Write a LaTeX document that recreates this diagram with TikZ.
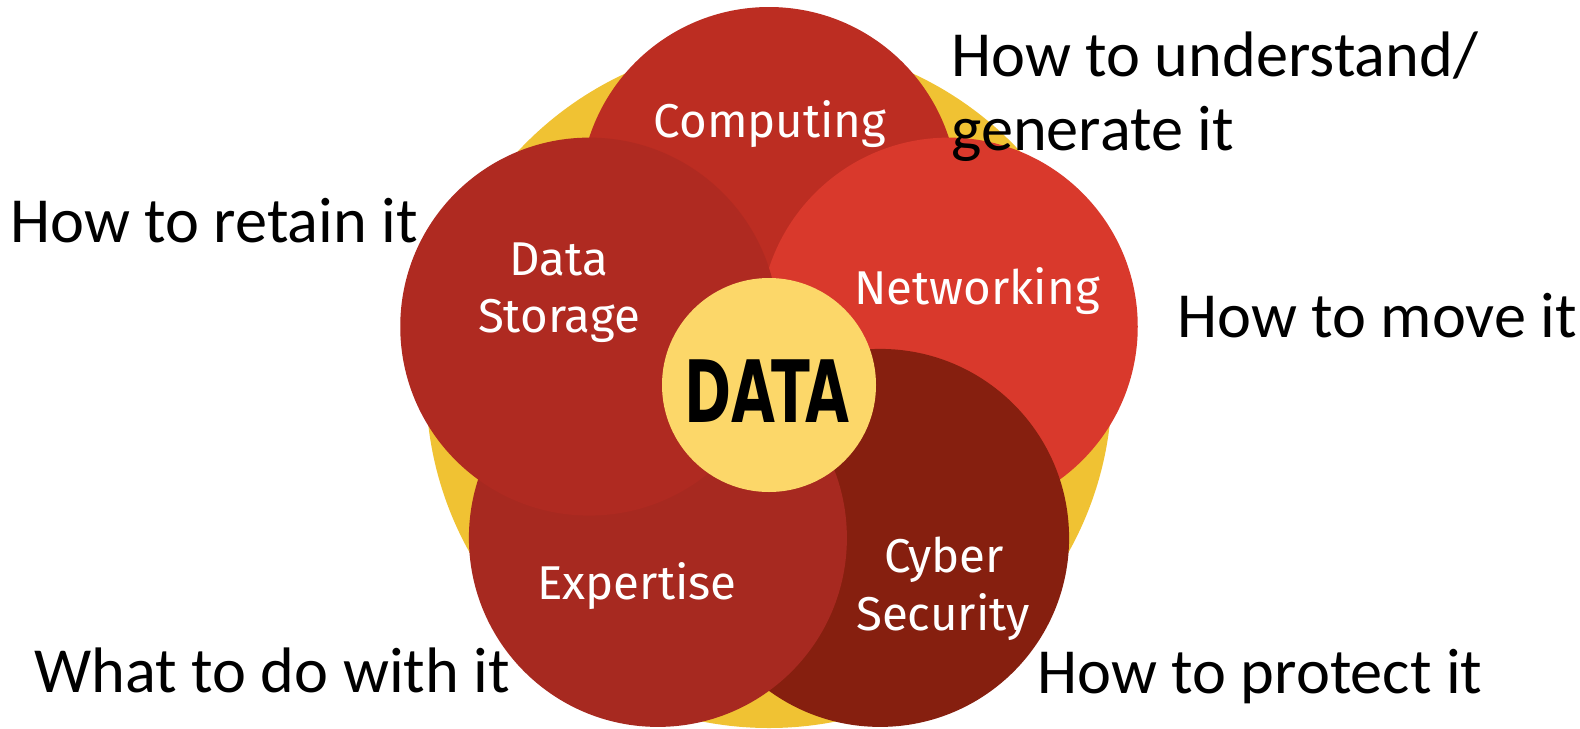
\documentclass[tikz,border=0pt]{standalone}
\usepackage{fontspec}
\setmainfont{Carlito}
\newfontfamily\circlefont{Fira Sans}
\newfontfamily\datafont{DejaVu Sans}
\usetikzlibrary{calc}
\definecolor{ringyellow}{HTML}{F0C233}
\definecolor{coreyellow}{HTML}{FCD769}
\definecolor{computingred}{HTML}{BC2D22}
\definecolor{storagered}{HTML}{AF2A21}
\definecolor{networkingred}{HTML}{D9392C}
\definecolor{expertisered}{HTML}{A72920}
\definecolor{securityred}{HTML}{861F0F}

\begin{document}
\begin{tikzpicture}[x=0.02cm, y=0.02cm, yscale=-1,
		circletext/.style={text=white, inner sep=0pt, anchor=base, font=\circlefont\fontsize{27}{32}\selectfont},
		note/.style={inner sep=0pt, anchor=base west, align=left, font=\fontsize{36.6}{42}\selectfont}]
		%%%%% START %%%%%
		\clip (0, 0) rectangle (1580, 728);
		
		\coordinate (hub) at (769, 385);
		\fill[ringyellow] (hub) circle (343);
		
		\fill[computingred] ($(hub)+(0, -189)$) circle (189);
		\fill[networkingred] ($(hub)+({189*cos(18)}, {-189*sin(18)})$) circle (189);
		\fill[securityred] ($(hub)+({189*cos(54)}, {189*sin(54)})$) circle (189);
		\fill[expertisered] ($(hub)+({-189*cos(54)}, {189*sin(54)})$) circle (189);
		\fill[storagered] ($(hub)+({-189*cos(18)}, {-189*sin(18)})$) circle (189);
		
		\fill[coreyellow] (hub) circle (107);
		\node[inner sep=0pt, anchor=base] (data) at (767, 422) {\datafont\bfseries\fontsize{49}{49}\selectfont\scalebox{0.66}[1]{DATA}};
		
		\node[circletext] (computing) at (770, 137) {Computing};
		\node[circletext] (data1) at (559, 275) {Data};
		\node[circletext] (storage) at (559, 332) {Storage};
		\node[circletext] (networking) at (977, 304) {Networking};
		\node[circletext] (expertise) at (637, 599) {Expertise};
		\node[circletext] (cyber) at (944, 572) {Cyber};
		\node[circletext] (security) at (943, 630) {Security};
		
		\node[note] (understand) at (951, 150) {How to understand/\\generate it};
		\node[note] (retain) at (10, 242) {How to retain it};
		\node[note] (move) at (1177, 337) {How to move it};
		\node[note] (dowith) at (34, 692) {What to do with it};
		\node[note] (protect) at (1037, 693) {How to protect it};
		%%%%% END %%%%%
	\end{tikzpicture}
\end{document}
